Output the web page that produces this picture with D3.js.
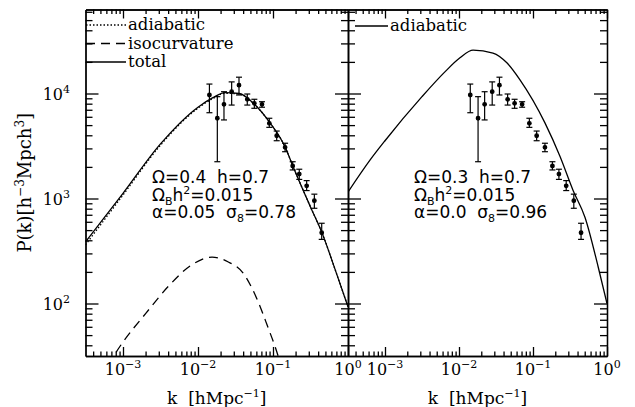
<!DOCTYPE html>
<html>
<head>
<meta charset="utf-8">
<script src="https://cdn.jsdelivr.net/npm/d3@7"></script>
<style>
body { margin: 0; background: #fff; }
svg { display: block; }
text { fill: #000; }
</style>
</head>
<body>
<svg id="chart" width="635" height="407"></svg>
<script>
// galaxy power spectrum points (same in both panels)
const obsK  = [0.0142, 0.0181, 0.0222, 0.0281, 0.0352, 0.0454, 0.0564, 0.0713, 0.0893, 0.112, 0.145, 0.183, 0.224, 0.281, 0.356, 0.446];
const obsP  = [9680, 5810, 7890, 10400, 12000, 8810, 8070, 7890, 5200, 3960, 3070, 2040, 1710, 1320, 953, 472];
const obsLo = [6560, 2240, 5600, 7760, 9680, 7760, 7230, 7400, 4760, 3550, 2790, 1870, 1520, 1190, 807, 408];
const obsHi = [12300, 9330, 10400, 12900, 14300, 9890, 8810, 8350, 5810, 4390, 3360, 2240, 1900, 1480, 1100, 581];

// left panel model curves
const leftK      = [0.000316, 0.001, 0.00316, 0.01, 0.0158, 0.0229, 0.0355, 0.0562, 0.0912, 0.145, 0.186, 0.316, 0.452, 0.676, 1.0];
const leftTotal  = [385, 1120, 3310, 7410, 9120, 10200, 10000, 7940, 5250, 3090, 2000, 832, 468, 209, 93];
const leftAdiab  = [362, 1080, 3220, 7250, 8950, 10050, 9900, 7900, 5250, 3090, 2000, 832, 468, 209, 93];
const isoK       = [0.00063, 0.001, 0.002, 0.004, 0.008, 0.0154, 0.025, 0.04, 0.063, 0.083, 0.117, 0.14];
const isoP       = [26, 43, 80, 145, 230, 277, 250, 195, 105, 63, 31.6, 20];

// right panel model curve
const rightK     = [0.000316, 0.00063, 0.001, 0.00316, 0.0063, 0.0103, 0.0155, 0.0288, 0.0447, 0.0667, 0.145, 0.232, 0.347, 0.505, 0.759, 1.0];
const rightAdiab = [1150, 2330, 3550, 9330, 15800, 21900, 25900, 24300, 19500, 13500, 5250, 2510, 1200, 660, 224, 100];

// tick labels
const kTickExp = [-3, -2, -1, 0];
const pTickExp = [2, 3, 4];

const svg = d3.select("#chart");
const yTop = 9.5, yBot = 356;
const serif = "DejaVu Serif", sans = "DejaVu Sans";
const sp = "\u00A0";

const y = d3.scaleLog().domain([Math.pow(10, 1.5), Math.pow(10, 4.8)]).range([yBot, yTop]);
const xLeft = d3.scaleLog().domain([Math.pow(10, -3.5), 1]).range([85.5, 348]);
const xRight = d3.scaleLog().domain([Math.pow(10, -3.5), 1]).range([348, 607]);

function minors(lo, hi) {
	const out = [];
	for (let e = -5; e <= 6; e++) {
		for (let m = 2; m <= 9; m++) {
			const v = m * Math.pow(10, e);
			if (v > lo && v < hi) out.push(v);
		}
	}
	return out;
}
const kMinor = minors(Math.pow(10, -3.5), 1);
const pMinor = minors(Math.pow(10, 1.5), Math.pow(10, 4.8));
const kMajor = kTickExp.map(e => Math.pow(10, e));
const pMajor = pTickExp.map(e => Math.pow(10, e));

function styleAxis(g) {
	g.selectAll("path, line").attr("stroke", "#000").attr("stroke-width", 1.3);
	g.selectAll("text").remove();
}

function drawPanel(x, id) {
	const x0 = x.range()[0], x1 = x.range()[1];
	// x axes, ticks pointing in
	[[d3.axisBottom, yBot], [d3.axisTop, yTop]].forEach(([ax, ypos]) => {
		svg.append("g").attr("transform", `translate(0,${ypos})`)
			.call(ax(x).tickValues(kMajor).tickSize(-9).tickSizeOuter(0).tickFormat(""))
			.call(styleAxis);
		svg.append("g").attr("transform", `translate(0,${ypos})`)
			.call(ax(x).tickValues(kMinor).tickSize(-4.5).tickSizeOuter(0).tickFormat(""))
			.call(styleAxis);
	});
	[[d3.axisLeft, x0], [d3.axisRight, x1]].forEach(([ax, xpos]) => {
		svg.append("g").attr("transform", `translate(${xpos},0)`)
			.call(ax(y).tickValues(pMajor).tickSize(-13).tickSizeOuter(0).tickFormat(""))
			.call(styleAxis);
		svg.append("g").attr("transform", `translate(${xpos},0)`)
			.call(ax(y).tickValues(pMinor).tickSize(-7).tickSizeOuter(0).tickFormat(""))
			.call(styleAxis);
	});

	// x tick labels
	kTickExp.forEach(e => {
		const t = svg.append("text")
			.attr("x", x(Math.pow(10, e))).attr("y", 375)
			.attr("text-anchor", "middle")
			.attr("font-family", serif).attr("font-size", 16);
		t.append("tspan").text("10");
		t.append("tspan").attr("dy", -7).attr("font-size", 11).text(e === 0 ? "0" : "\u2212" + (-e));
	});
	const xt = svg.append("text")
		.attr("x", (x0 + x1) / 2).attr("y", 404)
		.attr("text-anchor", "middle")
		.attr("font-family", serif).attr("font-size", 17);
	xt.append("tspan").text("k" + sp + sp + "[hMpc");
	xt.append("tspan").attr("dy", -7).attr("font-size", 11).text("\u22121");
	xt.append("tspan").attr("dy", 7).text("]");

	svg.append("clipPath").attr("id", id)
		.append("rect").attr("x", x0).attr("y", yTop).attr("width", x1 - x0).attr("height", yBot - yTop);

	// error bars
	const pts = svg.append("g").attr("stroke", "#000").attr("stroke-width", 1.2);
	obsK.forEach((k, i) => {
		const cx = x(k);
		pts.append("line").attr("x1", cx).attr("x2", cx).attr("y1", y(obsLo[i])).attr("y2", y(obsHi[i]));
		pts.append("line").attr("x1", cx - 3).attr("x2", cx + 3).attr("y1", y(obsLo[i])).attr("y2", y(obsLo[i]));
		pts.append("line").attr("x1", cx - 3).attr("x2", cx + 3).attr("y1", y(obsHi[i])).attr("y2", y(obsHi[i]));
		pts.append("circle").attr("cx", cx).attr("cy", y(obsP[i])).attr("r", 1.8).attr("fill", "#000");
	});
}

function curve(x, ks, ps, id, dash) {
	const line = d3.line().x(d => x(d[0])).y(d => y(d[1])).curve(d3.curveMonotoneX);
	svg.append("path")
		.attr("d", line(ks.map((k, i) => [k, ps[i]])))
		.attr("clip-path", `url(#${id})`)
		.attr("fill", "none").attr("stroke", "#000").attr("stroke-width", 1.3)
		.attr("stroke-dasharray", dash || null);
}

drawPanel(xLeft, "clipL");
drawPanel(xRight, "clipR");

curve(xLeft, leftK, leftAdiab, "clipL", "1.5,2");
curve(xLeft, leftK, leftTotal, "clipL");
curve(xLeft, isoK, isoP, "clipL", "9,6");
curve(xRight, rightK, rightAdiab, "clipR");

// y tick labels
pTickExp.forEach(e => {
	const t = svg.append("text")
		.attr("x", 70).attr("y", y(Math.pow(10, e)) + 6)
		.attr("text-anchor", "end")
		.attr("font-family", serif).attr("font-size", 16);
	t.append("tspan").text("10");
	t.append("tspan").attr("dy", -7).attr("font-size", 11).text(e);
});
const yt = svg.append("text")
	.attr("transform", `translate(31,${(yTop + yBot) / 2}) rotate(-90)`)
	.attr("text-anchor", "middle")
	.attr("font-family", serif).attr("font-size", 18);
yt.append("tspan").text("P(k)[h");
yt.append("tspan").attr("dy", -7).attr("font-size", 12).text("\u22123");
yt.append("tspan").attr("dy", 7).text("Mpch");
yt.append("tspan").attr("dy", -7).attr("font-size", 12).text("3");
yt.append("tspan").attr("dy", 7).text("]");

// legends
const legL = [["adiabatic", "1.5,2"], ["isocurvature", "9,6"], ["total", null]];
legL.forEach(([lab, dash], i) => {
	const ly = 25 + i * 18.5;
	svg.append("line").attr("x1", 86).attr("x2", 126).attr("y1", ly).attr("y2", ly)
		.attr("stroke", "#000").attr("stroke-width", 1.3).attr("stroke-dasharray", dash);
	svg.append("text").attr("x", 128).attr("y", ly + 5)
		.attr("font-family", serif).attr("font-size", 16.5).text(lab);
});
svg.append("line").attr("x1", 355).attr("x2", 388).attr("y1", 26).attr("y2", 26)
	.attr("stroke", "#000").attr("stroke-width", 1.3);
svg.append("text").attr("x", 390).attr("y", 31)
	.attr("font-family", serif).attr("font-size", 16.5).text("adiabatic");

// parameter annotations
function params(x0, om, al, s8) {
	const g = svg.append("g").attr("font-family", sans).attr("font-size", 17);
	g.append("text").attr("x", x0).attr("y", 183).text("\u03A9=" + om + sp + sp + "h=0.7");
	const t2 = g.append("text").attr("x", x0).attr("y", 201);
	t2.append("tspan").text("\u03A9");
	t2.append("tspan").attr("dy", 4).attr("font-size", 11).text("B");
	t2.append("tspan").attr("dy", -4).text("h");
	t2.append("tspan").attr("dy", -7).attr("font-size", 11).text("2");
	t2.append("tspan").attr("dy", 7).text("=0.015");
	const t3 = g.append("text").attr("x", x0).attr("y", 218);
	t3.append("tspan").text("\u03B1=" + al + sp + sp + "\u03C3");
	t3.append("tspan").attr("dy", 4).attr("font-size", 11).text("8");
	t3.append("tspan").attr("dy", -4).text("=" + s8);
}
params(152, "0.4", "0.05", "0.78");
params(414, "0.3", "0.0", "0.96");
</script>
</body>
</html>
